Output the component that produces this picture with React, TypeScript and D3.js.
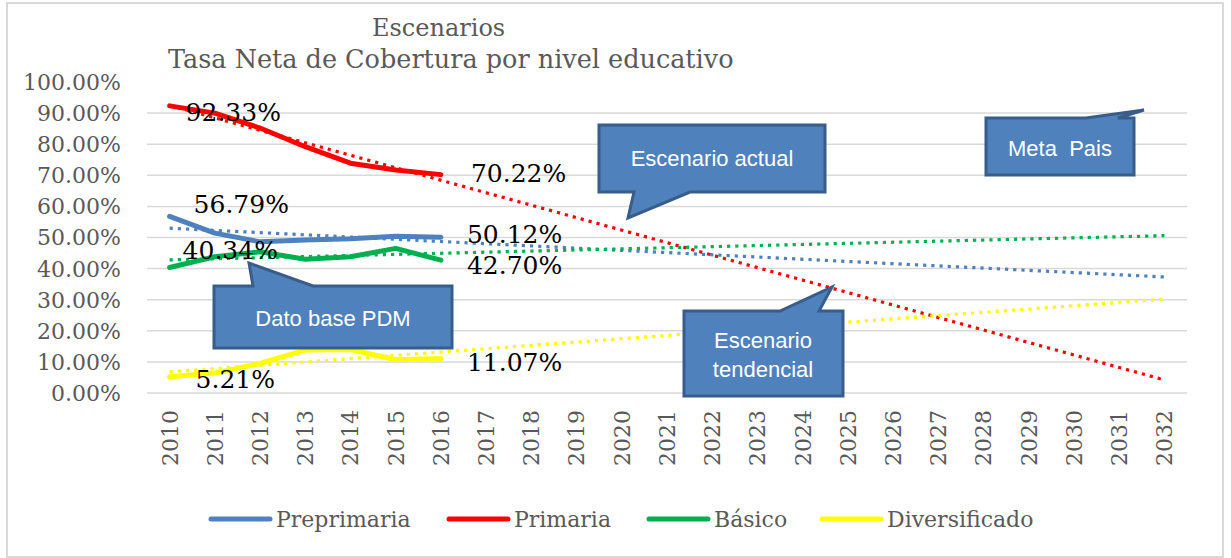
import React from 'react';
import * as d3 from 'd3';

const years = ['2010','2011','2012','2013','2014','2015','2016','2017','2018','2019','2020','2021','2022','2023','2024','2025','2026','2027','2028','2029','2030','2031','2032'];
const yTicks = [0, 0.1, 0.2, 0.3, 0.4, 0.5, 0.6, 0.7, 0.8, 0.9, 1.0];

const seriesNames = ['Preprimaria', 'Primaria', 'Básico', 'Diversificado'];
const preprimaria = [0.5679, 0.514, 0.486, 0.492, 0.496, 0.504, 0.5012];
const primaria = [0.9233, 0.900, 0.852, 0.792, 0.739, 0.717, 0.7022];
const basico = [0.4034, 0.438, 0.454, 0.430, 0.438, 0.465, 0.4270];
const diversificado = [0.0521, 0.064, 0.095, 0.138, 0.140, 0.107, 0.1107];
// linear trend lines: value at 2010 and at 2032
const trendStart = [0.530, 0.925, 0.428, 0.068];
const trendEnd = [0.373, 0.042, 0.506, 0.302];

const calloutTexts = [['Escenario actual'], ['Meta  Pais'], ['Dato base PDM'], ['Escenario', 'tendencial']];

const colors = ['#4F81BD', '#FF0000', '#00B050', '#FFFF00'];
const firstLabelOffset = [[24, -12], [16, 6], [13, -18], [26, 2]];
const lastLabelOffset = [[26, -3], [30, -2], [26, 5], [26, 3]];
const legendX = [211, 449, 649, 822];

// callout geometry (shape paths and text centers)
const callouts = [
  { d: 'M599,125 H825 V192 H690 L628,218 L634,192 H599 Z', cx: 712, cy: [158] },
  { d: 'M986,118 H1086 L1144,110 L1118,118 H1134 V175 H986 Z', cx: 1060, cy: [148] },
  { d: 'M214,286 H253 L249,263 L313,286 H452 V348 H214 Z', cx: 333, cy: [318] },
  { d: 'M684,311 H780 L832,287 L819,311 H843 V396 H684 Z', cx: 763, cy: [340, 369] },
];

const SERIF = '"DejaVu Serif", serif';
const SANS = '"Liberation Sans", Arial, sans-serif';

export default function App() {
  const W = 1231, H = 558;
  const x = d3.scaleBand<string>().domain(years).range([147, 1187]);
  const cx = (yr: string) => (x(yr) as number) + x.bandwidth() / 2;
  const y = d3.scaleLinear().domain([0, 1]).range([393, 82]);
  const fmt = d3.format('.2%');
  const line = d3.line<[string, number]>().x(d => cx(d[0])).y(d => y(d[1]));
  const data = [preprimaria, primaria, basico, diversificado];
  const actualYears = years.slice(0, preprimaria.length);

  return (
    <div style={{ position: 'absolute', left: 0, top: 0 }}>
      <svg width={W} height={H} viewBox={`0 0 ${W} ${H}`} style={{ display: 'block', background: '#fff' }}>
        <rect x={7} y={3} width={1216} height={554} fill="#fff" stroke="#D9D9D9" strokeWidth={2} />
        {/* gridlines */}
        {yTicks.filter(t => t < 1).map(t => (
          <line key={t} x1={147} x2={1187} y1={y(t)} y2={y(t)} stroke="#D9D9D9" strokeWidth={1.5} />
        ))}
        {/* y labels */}
        {yTicks.map(t => (
          <text key={'yl' + t} x={121} y={y(t)} dy="0.36em" textAnchor="end" fontFamily={SERIF} fontSize={22} fill="#595959">{fmt(t)}</text>
        ))}
        {/* x labels */}
        {years.map(yr => (
          <text key={'xl' + yr} transform={`translate(${cx(yr)},410) rotate(-90)`} dy="0.36em" textAnchor="end" fontFamily={SERIF} fontSize={22} fill="#595959">{yr}</text>
        ))}
        {/* actual series */}
        {data.map((vals, i) => (
          <path key={'s' + i} d={line(actualYears.map((yr, j) => [yr, vals[j]] as [string, number])) || ''} fill="none" stroke={colors[i]} strokeWidth={5} strokeLinejoin="round" strokeLinecap="round" />
        ))}
        {/* trend lines */}
        {data.map((_, i) => (
          <path key={'t' + i} d={line([[years[0], trendStart[i]], [years[years.length - 1], trendEnd[i]]]) || ''} fill="none" stroke={colors[i]} strokeWidth={3.2} strokeDasharray="3.2 5" />
        ))}
        {/* data labels */}
        {data.map((vals, i) => {
          const f = vals[0], l = vals[vals.length - 1];
          return (
            <g key={'dl' + i} fontFamily={SERIF} fontSize={25} fill="#000">
              <text x={cx(actualYears[0]) + firstLabelOffset[i][0]} y={y(f) + firstLabelOffset[i][1]} dy="0.36em">{fmt(f)}</text>
              <text x={cx(actualYears[actualYears.length - 1]) + lastLabelOffset[i][0]} y={y(l) + lastLabelOffset[i][1]} dy="0.36em">{fmt(l)}</text>
            </g>
          );
        })}
        {/* callouts */}
        {callouts.map((c, i) => (
          <g key={'c' + i}>
            <path d={c.d} fill="#4F81BD" stroke="#385D8A" strokeWidth={3} strokeLinejoin="miter" />
            {calloutTexts[i].map((t, k) => (
              <text key={k} x={c.cx} y={c.cy[k]} dy="0.36em" textAnchor="middle" fontFamily={SANS} fontSize={22} fill="#fff" style={{ whiteSpace: 'pre' }}>{t}</text>
            ))}
          </g>
        ))}
        {/* legend */}
        {seriesNames.map((n, i) => (
          <g key={'lg' + i}>
            <line x1={legendX[i]} x2={legendX[i] + 59} y1={519} y2={519} stroke={colors[i]} strokeWidth={5} strokeLinecap="round" />
            <text x={legendX[i] + 65} y={519} dy="0.36em" fontFamily={SERIF} fontSize={22} fill="#595959">{n}</text>
          </g>
        ))}
        {/* title */}
        <text x={372} y={36} fontFamily={SERIF} fontSize={24} fill="#595959">Escenarios</text>
        <text x={168} y={68} fontFamily={SERIF} fontSize={25.5} fill="#595959">Tasa Neta de Cobertura por nivel educativo</text>
      </svg>
    </div>
  );
}
